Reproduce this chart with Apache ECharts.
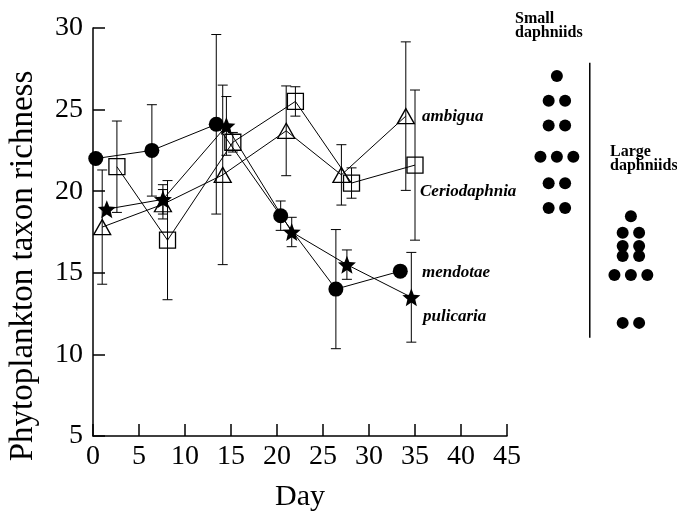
<!DOCTYPE html>
<html>
<head>
<meta charset="utf-8">
<script src="https://cdn.jsdelivr.net/npm/echarts@6/dist/echarts.min.js"></script>
<style>
  html, body { margin: 0; padding: 0; background: #fff; }
  #main { width: 677px; height: 517px; }
</style>
</head>
<body>
<div id="main"></div>
<script>
// sampling days and mean richness (+/- error) for each daphniid
const mendotaeDay = [0.3, 6.4, 13.4, 20.4, 26.4, 33.4];
const mendotae    = [22.0, 22.5, 24.1, 18.5, 14.0, 15.1];
const mendotaeErr = [0, 2.8, 5.5, 0.9, 3.65, 0];

const pulicariaDay = [1.5, 7.6, 14.5, 21.6, 27.6, 34.6];
const pulicaria    = [18.9, 19.5, 24.0, 17.5, 15.5, 13.5];
const pulicariaErr = [0, 0.9, 1.8, 0.9, 0.9, 2.75];

const ambiguaDay = [1.0, 7.6, 14.1, 21.0, 27.0, 34.0];
const ambigua    = [17.8, 19.2, 21.0, 23.7, 21.0, 24.6];
const ambiguaErr = [3.5, 0.9, 5.5, 2.75, 1.85, 4.55];

const ceriodaphniaDay = [2.6, 8.1, 15.2, 22.0, 28.1, 35.0];
const ceriodaphnia    = [21.5, 17.0, 23.0, 25.5, 20.5, 21.6];
const ceriodaphniaErr = [2.8, 3.65, 0.6, 0.9, 0.93, 4.6];

// dot diagram on the right: row level and number of dots in each row
const smallRows   = [27.1, 25.6, 24.1, 22.2, 20.6, 19.1];
const smallCounts = [1, 2, 2, 3, 2, 2];
const largeRows   = [18.6, 17.6, 16.8, 16.2, 15.05, 12.15];
const largeCounts = [1, 2, 2, 2, 3, 2];
const smallCol = 0, largeCol = 9;
const dividerX = 4;
const dividerY = [27.9, 11.25];

const xTicks = { min: 0, max: 45, interval: 5 };
const yTicks = { min: 5, max: 30, interval: 5 };

const serif = '"Liberation Serif", "Times New Roman", serif';
const STAR = 'path://M50 0L62.9 32.2L97.6 34.5L70.9 56.8L79.4 90.5L50 72L20.6 90.5L29.1 56.8L2.4 34.5L37.1 32.2Z';

function pairs(xs, ys) {
  return xs.map((x, i) => [x, ys[i]]);
}

function speciesLine(name, days, vals, symbol, size, filled) {
  return {
    name: name,
    type: 'line',
    data: pairs(days, vals),
    symbol: symbol,
    symbolSize: size,
    showAllSymbol: true,
    lineStyle: { color: '#000', width: 1 },
    itemStyle: {
      color: filled ? '#000' : 'rgba(0,0,0,0)',
      borderColor: '#000',
      borderWidth: filled ? 0 : 1.3,
      opacity: 1
    },
    emphasis: { disabled: true },
    z: 3
  };
}

function errorBars(days, vals, errs) {
  const rows = [];
  days.forEach((d, i) => {
    if (errs[i] > 0) rows.push([d, vals[i] - errs[i], vals[i] + errs[i]]);
  });
  return {
    type: 'custom',
    data: rows,
    encode: { x: 0, y: [1, 2] },
    silent: true,
    z: 2,
    renderItem: function (params, api) {
      const lo = api.coord([api.value(0), api.value(1)]);
      const hi = api.coord([api.value(0), api.value(2)]);
      const w = 5;
      const st = { stroke: '#000', lineWidth: 1 };
      return {
        type: 'group',
        children: [
          { type: 'line', shape: { x1: lo[0], y1: lo[1], x2: hi[0], y2: hi[1] }, style: st },
          { type: 'line', shape: { x1: lo[0] - w, y1: lo[1], x2: lo[0] + w, y2: lo[1] }, style: st },
          { type: 'line', shape: { x1: hi[0] - w, y1: hi[1], x2: hi[0] + w, y2: hi[1] }, style: st }
        ]
      };
    }
  };
}

function dotRows(col, rows, counts) {
  const out = [];
  rows.forEach((y, i) => {
    const n = counts[i];
    for (let k = 0; k < n; k++) out.push([col + (k * 2 - (n - 1)), y]);
  });
  return out;
}

const axisLine = { show: true, lineStyle: { color: '#000', width: 1.5 } };
const axisTick = { show: true, inside: true, length: 12, lineStyle: { color: '#000', width: 1.5 } };

let option = {
  animation: false,
  backgroundColor: '#fff',
  grid: [
    { left: 93, top: 28, width: 414, height: 413 },
    { left: 524, top: 28, width: 148, height: 413 }
  ],
  xAxis: [
    {
      gridIndex: 0, type: 'value',
      min: xTicks.min, max: xTicks.max, interval: xTicks.interval,
      axisLine: axisLine, axisTick: axisTick,
      splitLine: { show: false },
      axisLabel: { color: '#000', fontFamily: serif, fontSize: 28, margin: 7 },
      name: 'Day', nameLocation: 'middle', nameGap: 46,
      nameTextStyle: { color: '#000', fontFamily: serif, fontSize: 30 }
    },
    { gridIndex: 1, type: 'value', min: -4, max: 14, show: false }
  ],
  yAxis: [
    {
      gridIndex: 0, type: 'value',
      min: yTicks.min, max: yTicks.max, interval: yTicks.interval,
      axisLine: axisLine, axisTick: axisTick,
      splitLine: { show: false },
      axisLabel: { color: '#000', fontFamily: serif, fontSize: 28, margin: 10 }
    },
    { gridIndex: 1, type: 'value', min: yTicks.min, max: yTicks.max, show: false }
  ],
  graphic: [
    { type: 'text', x: 23, y: 266, rotation: Math.PI / 2,
      style: { text: 'Phytoplankton taxon richness', font: '33px ' + serif, fill: '#000',
               textAlign: 'center', textVerticalAlign: 'middle' } },
    { type: 'text', x: 422, y: 117,
      style: { text: 'ambigua', font: 'italic bold 17px ' + serif, fill: '#000', textVerticalAlign: 'middle' } },
    { type: 'text', x: 420, y: 192,
      style: { text: 'Ceriodaphnia', font: 'italic bold 17px ' + serif, fill: '#000', textVerticalAlign: 'middle' } },
    { type: 'text', x: 422, y: 273,
      style: { text: 'mendotae', font: 'italic bold 17px ' + serif, fill: '#000', textVerticalAlign: 'middle' } },
    { type: 'text', x: 423, y: 317,
      style: { text: 'pulicaria', font: 'italic bold 17px ' + serif, fill: '#000', textVerticalAlign: 'middle' } },
    { type: 'text', x: 515, y: 12,
      style: { text: 'Small\ndaphniids', font: 'bold 16px ' + serif, lineHeight: 14, fill: '#000', textVerticalAlign: 'top' } },
    { type: 'text', x: 610, y: 145,
      style: { text: 'Large\ndaphniids', font: 'bold 16px ' + serif, lineHeight: 14, fill: '#000', textVerticalAlign: 'top' } }
  ],
  series: [
    errorBars(ambiguaDay, ambigua, ambiguaErr),
    errorBars(ceriodaphniaDay, ceriodaphnia, ceriodaphniaErr),
    errorBars(mendotaeDay, mendotae, mendotaeErr),
    errorBars(pulicariaDay, pulicaria, pulicariaErr),
    speciesLine('ambigua', ambiguaDay, ambigua, 'triangle', [17, 15], false),
    speciesLine('Ceriodaphnia', ceriodaphniaDay, ceriodaphnia, 'rect', 16, false),
    speciesLine('mendotae', mendotaeDay, mendotae, 'circle', 15, true),
    speciesLine('pulicaria', pulicariaDay, pulicaria, STAR, 18, true),
    {
      type: 'scatter', xAxisIndex: 1, yAxisIndex: 1,
      data: dotRows(smallCol, smallRows, smallCounts).concat(dotRows(largeCol, largeRows, largeCounts)),
      symbol: 'circle', symbolSize: 12,
      itemStyle: { color: '#000', opacity: 1 }, silent: true
    },
    {
      type: 'line', xAxisIndex: 1, yAxisIndex: 1,
      data: [[dividerX, dividerY[0]], [dividerX, dividerY[1]]],
      symbol: 'none', lineStyle: { color: '#000', width: 1.5 }, silent: true
    }
  ]
};

let myChart = echarts.init(document.getElementById('main'));
myChart.setOption(option);
</script>
</body>
</html>
